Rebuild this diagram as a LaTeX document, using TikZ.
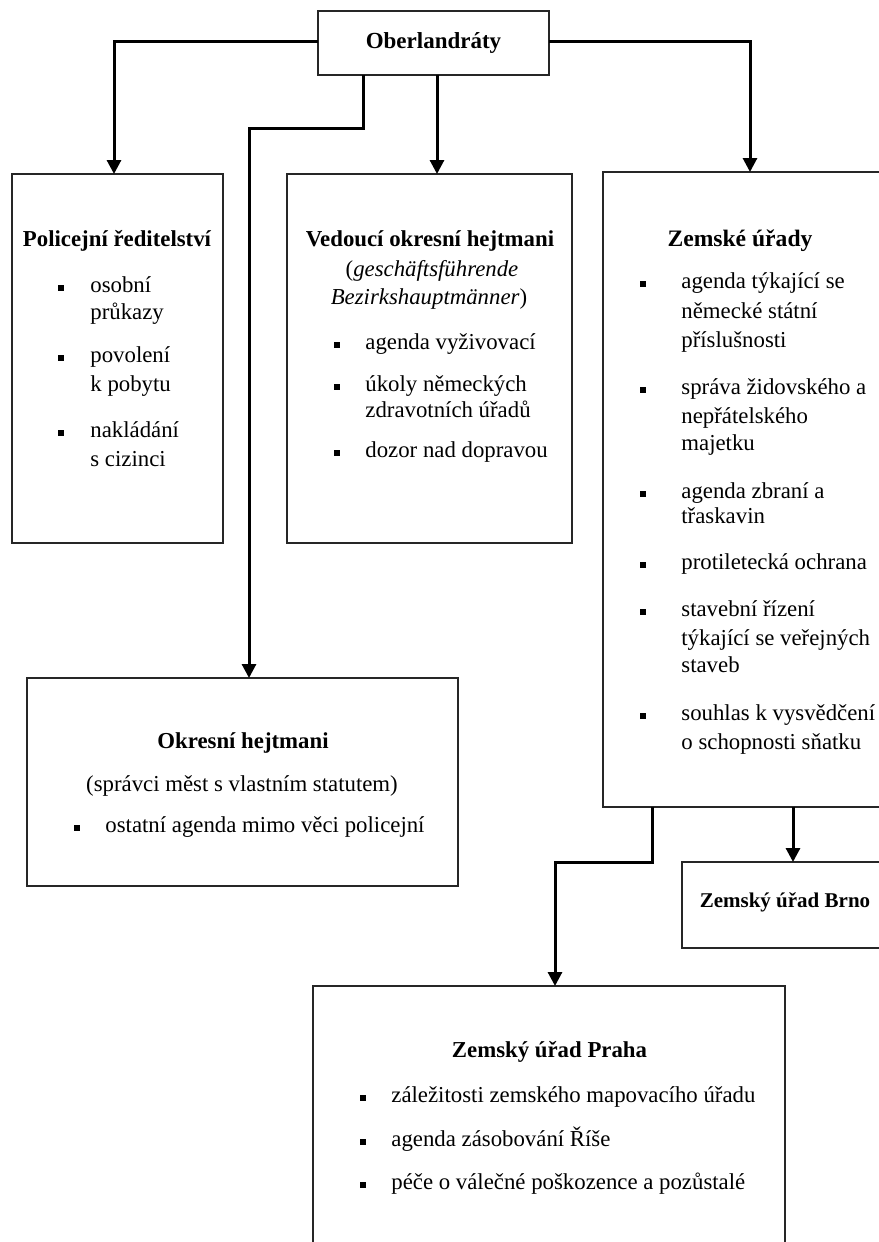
\documentclass[tikz,border=0pt]{standalone}
\usepackage{fontspec}
\setmainfont{Liberation Serif}
\usetikzlibrary{arrows.meta}
\tikzstyle{tree}=[-{Triangle[width=7pt,length=7pt]}, line width=1.5pt]
\tikzstyle{office}=[rectangle, draw=black!85, line width=0.7pt, inner sep=0pt, outer sep=0pt, fill=white]
\tikzstyle{head}=[anchor=mid, inner sep=0pt, font=\fontsize{11.4}{14}\selectfont\bfseries]
\tikzstyle{line}=[anchor=mid west, inner sep=0pt]
\tikzstyle{sq}=[rectangle, fill=black, inner sep=0pt, minimum size=3pt]

\begin{document}
\begin{tikzpicture}[x=0.5pt, y=-0.5pt, font=\fontsize{11.4}{14}\selectfont]
				\useasboundingbox (0,0) rectangle (878,1242);

				%The top office
				\node[office, minimum width=115.5pt, minimum height=32pt, font=\fontsize{11.5}{14}\selectfont\bfseries] (ober) at (433.5,43) {Oberlandráty};

				%The three offices below it
				\node[office, minimum width=105.5pt, minimum height=184.5pt] (pol) at (117.5,358.5) {};
				\node[office, minimum width=142.5pt, minimum height=184.5pt] (ved) at (429.5,358.5) {};
				\node[office, minimum width=143.5pt, minimum height=317.5pt] (zem) at (746.5,489.5) {};

				%The lower offices
				\node[office, minimum width=215.5pt, minimum height=104pt] (okr) at (242.5,782) {};
				\node[office, minimum width=106.5pt, minimum height=43pt] (brno) at (788.5,905) {};
				\node[office, minimum width=236pt, minimum height=142pt] (praha) at (549,1128) {};

				%Policejni reditelstvi
				\node[head] (polh) at (117,242) {Policejní ředitelství};
				\foreach \y in {288,358,433} \node[sq] (polb\y) at (61,\y) {};
				\foreach \y/\t [count=\i] in {288/osobní,315/průkazy,358/povolení,387/k pobytu,433/nakládání,462/s cizinci}
					\node[line] (poll\i) at (90,\y) {\t};

				%Vedouci okresni hejtmani
				\node[head] (vedh) at (430,242) {Vedoucí okresní hejtmani};
				\node[anchor=mid, inner sep=0pt] (vedg1) at (432,272) {(\textit{geschäftsführende}};
				\node[anchor=mid, inner sep=0pt] (vedg2) at (429,300) {\textit{Bezirkshauptmänner})};
				\foreach \y in {345,387,453} \node[sq] (vedb\y) at (337,\y) {};
				\foreach \y/\t [count=\i] in {345/agenda vyživovací,387/úkoly německých,413/zdravotních úřadů,453/dozor nad dopravou}
					\node[line] (vedl\i) at (365,\y) {\t};

				%Zemske urady
				\node[head, font=\fontsize{11.8}{14}\selectfont\bfseries] (zemh) at (740,242) {Zemské úřady};
				\foreach \y in {284,390,494,565,612,716} \node[sq] (zemb\y) at (643,\y) {};
				\foreach \y/\t [count=\i] in {284/agenda týkající se,314/německé státní,343/příslušnosti,
					390/správa židovského a,419/nepřátelského,446/majetku,494/agenda zbraní a,519/třaskavin,
					565/protiletecká ochrana,612/stavební řízení,641/týkající se veřejných,668/staveb,
					716/souhlas k vysvědčení,745/o schopnosti sňatku}
					\node[line] (zeml\i) at (681,\y) {\t};

				%Okresni hejtmani
				\node[head] (okrh) at (243,744) {Okresní hejtmani};
				\node[anchor=mid, inner sep=0pt] (okrs) at (242,787) {(správci měst s vlastním statutem)};
				\node[sq] (okrb) at (77,828) {};
				\node[line] (okrl) at (105,828) {ostatní agenda mimo věci policejní};

				%Zemsky urad Brno
				\node[head, font=\fontsize{10.5}{13}\selectfont\bfseries] (brnoh) at (785,903) {Zemský úřad Brno};

				%Zemsky urad Praha
				\node[head] (prahah) at (549.5,1053) {Zemský úřad Praha};
				\foreach \y in {1098,1142,1185} \node[sq] (prahab\y) at (363,\y) {};
				\foreach \y/\t [count=\i] in {1098/záležitosti zemského mapovacího úřadu,1142/agenda zásobování Říše,1185/péče o válečné poškozence a pozůstalé}
					\node[line] (prahal\i) at (391,\y) {\t};

				%The bends of the connectors
				\coordinate (k1) at (363,128);
				\coordinate (k2) at (249,128);
				\coordinate (k3) at (652,862);
				\coordinate (k4) at (555,862);
				\coordinate (k5) at (793,862);
				\coordinate (k6) at (114,41);
				\coordinate (k7) at (750,41);
				\coordinate (k8) at (437,128);

				%The connectors
				\draw[tree] (ober.west |- k6) -- (k6) -- (k6 |- pol.north);
				\draw[tree] (ober.east |- k7) -- (k7) -- (k7 |- zem.north);
				\draw[tree] (ober.south -| k8) -- (k8 |- ved.north);
				\draw[tree] (ober.south -| k1) -- (k1) -- (k2) -- (k2 |- okr.north);
				\draw[tree] (zem.south -| k3) -- (k3) -- (k4) -- (k4 |- praha.north);
				\draw[tree] (zem.south -| k5) -- (k5 |- brno.north);
			\end{tikzpicture}
\end{document}
